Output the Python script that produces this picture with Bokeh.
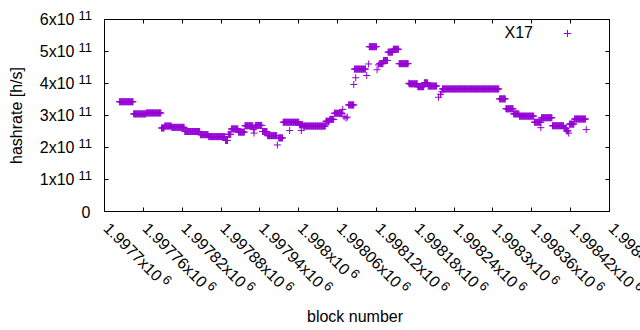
import math
import numpy as np
from bokeh.plotting import figure
from bokeh.models import (Range1d, LinearAxis, FixedTicker, ColumnDataSource,
                          Legend, LegendItem)
from bokeh.core.properties import value
from bokeh.embed import file_html
from bokeh.resources import INLINE

# ---------------- data ----------------
# runs of consecutive blocks sharing the same hashrate (x1e11 h/s)
run_start = [1997723, 1997745, 1997765, 1997788, 1997793, 1997804, 1997824, 1997848,
             1997861, 1997887, 1997891, 1997896, 1997907, 1997917, 1997933, 1997944,
             1997952, 1997969, 1997976, 1998001, 1998007, 1998042, 1998048, 1998055,
             1998077, 1998086, 1998109, 1998125, 1998131, 1998138, 1998146, 1998155,
             1998171, 1998184, 1998194, 1998200, 1998222, 1998310, 1998320, 1998332,
             1998341, 1998364, 1998375, 1998392, 1998410, 1998414, 1998418, 1998426]
run_end = [1997744, 1997764, 1997787, 1997792, 1997803, 1997823, 1997847, 1997860,
           1997886, 1997890, 1997895, 1997906, 1997916, 1997929, 1997943, 1997951,
           1997966, 1997975, 1998000, 1998006, 1998041, 1998047, 1998054, 1998067,
           1998085, 1998103, 1998120, 1998130, 1998137, 1998145, 1998154, 1998169,
           1998183, 1998193, 1998199, 1998213, 1998309, 1998319, 1998331, 1998340,
           1998363, 1998374, 1998391, 1998409, 1998413, 1998416, 1998425, 1998443]
run_rate = [3.43, 3.05, 3.08, 2.61, 2.67, 2.63, 2.50, 2.40,
            2.34, 2.22, 2.41, 2.58, 2.48, 2.68, 2.69, 2.50,
            2.37, 2.30, 2.79, 2.71, 2.67, 2.82, 2.88, 3.07,
            3.33, 4.45, 5.15, 4.62, 4.72, 4.98, 5.07, 4.62,
            3.99, 3.90, 4.02, 3.92, 3.83, 3.52, 3.21, 3.05,
            2.98, 2.79, 2.93, 2.68, 2.60, 2.52, 2.73, 2.89]
# isolated points
extra_block = [1997930, 1997931, 1997932, 1997967, 1997986, 1998004, 1998068, 1998070,
               1998073, 1998075, 1998085, 1998088, 1998105, 1998108, 1998121, 1998123,
               1998170, 1998216, 1998219, 1998221, 1998374, 1998417, 1998444]
extra_rate = [2.56, 2.45, 2.62, 2.08, 2.53, 2.53, 3.19, 2.96,
              2.92, 2.95, 3.97, 4.18, 4.25, 4.61, 4.43, 4.58,
              4.01, 3.57, 3.66, 3.74, 2.62, 2.45, 2.56]
rate_unit = 1e11

x_ticks = [1997700, 1997760, 1997820, 1997880, 1997940, 1998000, 1998060,
           1998120, 1998180, 1998240, 1998300, 1998360, 1998420, 1998480]
x_tick_mantissa = ["1.9977", "1.99776", "1.99782", "1.99788", "1.99794", "1.998",
                   "1.99806", "1.99812", "1.99818", "1.99824", "1.9983", "1.99836",
                   "1.99842", "1.99848"]
x_tick_exp = "6"
y_ticks = [0, 1e11, 2e11, 3e11, 4e11, 5e11, 6e11]
y_tick_mantissa = ["0", "1", "2", "3", "4", "5", "6"]
y_tick_exp = "11"

series_name = "X17"
x_title = "block number"
y_title = "hashrate [h/s]"

# ---------------- build points ----------------
blocks, rates = [], []
for s, e, v in zip(run_start, run_end, run_rate):
    b = np.arange(s, e + 1)
    blocks.extend(b.tolist())
    rates.extend([v * rate_unit] * len(b))
blocks.extend(extra_block)
rates.extend([v * rate_unit for v in extra_rate])

X0, X1 = x_ticks[0], x_ticks[-1]
Y0, Y1 = y_ticks[0], y_ticks[-1]

FONT = "Liberation Sans"
MAIN = 16
SUP = 13
PURPLE = "#9400D3"

p = figure(width=640, height=330, output_backend="svg", toolbar_location=None,
           x_range=Range1d(X0, X1), y_range=Range1d(Y0, Y1),
           x_axis_type=None, y_axis_type=None,
           min_border_left=104, min_border_right=31, min_border_top=19,
           min_border_bottom=119)
p.outline_line_color = "black"
p.outline_line_width = 1
p.background_fill_color = "white"
p.border_fill_color = "white"


def mk_axis(ticks):
    return LinearAxis(ticker=FixedTicker(ticks=ticks, minor_ticks=[]),
                      major_tick_in=4, major_tick_out=0,
                      minor_tick_in=0, minor_tick_out=0,
                      major_label_overrides={t: "" for t in ticks},
                      major_label_text_font_size="1px", major_label_standoff=0,
                      axis_line_color="black", major_tick_line_color="black",
                      axis_label=None)


p.add_layout(mk_axis(x_ticks), "below")
p.add_layout(mk_axis(x_ticks), "above")
p.add_layout(mk_axis(y_ticks), "left")
p.add_layout(mk_axis(y_ticks), "right")

src = ColumnDataSource(dict(block=blocks, rate=rates))
r = p.scatter("block", "rate", source=src, marker="cross", size=7,
              line_color=PURPLE, line_width=1)

# ---------------- text helpers (overlay level: not clipped to the frame) ----------------
W = {'.': 0.278, 'x': 0.5}


def text_w(s, size):
    return sum(W.get(c, 0.556) for c in s) * size


def add_text(xs, ys, texts, xo, yo, size, align="left", baseline="middle", angle=0.0):
    s = ColumnDataSource(dict(x=xs, y=ys, t=texts, xo=xo, yo=yo))
    p.text(x="x", y="y", text="t", source=s, x_offset="xo", y_offset="yo",
           angle=angle, text_align=align, text_baseline=baseline,
           text_font=value(FONT), text_font_size=f"{size}px", text_color="black",
           level="overlay")


# x tick labels, rotated -45 deg, with a raised exponent
ang = -math.pi / 4
c45 = math.cos(math.pi / 4)
bx, by = 2.0, 14.0      # start of label relative to the tick (right, down)
gap, rise = 3.0, 4.5
xm_text, xm_xo, xm_yo, xe_xo, xe_yo = [], [], [], [], []
for m in x_tick_mantissa:
    t = m + "x10"
    xm_text.append(t)
    xm_xo.append(bx)
    xm_yo.append(by)
    s = text_w(t, MAIN) + gap
    xe_xo.append(bx + c45 * s + c45 * rise)
    xe_yo.append(by + c45 * s - c45 * rise)
n = len(x_ticks)
add_text(x_ticks, [Y0] * n, xm_text, xm_xo, xm_yo, MAIN, angle=ang)
add_text(x_ticks, [Y0] * n, [x_tick_exp] * n, xe_xo, xe_yo, SUP, angle=ang)

# y tick labels
ym_text, ym_xo, ye_t, ye_y = [], [], [], []
for v, m in zip(y_ticks, y_tick_mantissa):
    if v == 0:
        ym_text.append(m)
        ym_xo.append(-14)
    else:
        ym_text.append(m + "x10")
        ym_xo.append(-30)
        ye_t.append(y_tick_exp)
        ye_y.append(v)
add_text([X0] * len(y_ticks), y_ticks, ym_text, ym_xo, [0] * len(y_ticks), MAIN,
         align="right")
add_text([X0] * len(ye_y), ye_y, ye_t, [-26] * len(ye_y), [-4.5] * len(ye_y), SUP)

# axis titles
add_text([X0], [(Y0 + Y1) / 2], [y_title], [-88], [0], MAIN, align="center",
         angle=math.pi / 2)
add_text([(X0 + X1) / 2], [Y0], [x_title], [-2], [105], MAIN, align="center")

# legend: text then sample marker
add_text([X1], [Y1], [series_name], [-76.5], [12.5], MAIN, align="right")
legend = Legend(items=[LegendItem(label=" ", renderers=[r])], location=(444, 159),
                padding=10, margin=0, spacing=0, glyph_width=18, glyph_height=18,
                label_height=18, label_width=0, label_standoff=0,
                label_text_font_size="13px",
                background_fill_alpha=0, border_line_alpha=0)
p.add_layout(legend)

open("out.html", "w").write(file_html(p, INLINE))
